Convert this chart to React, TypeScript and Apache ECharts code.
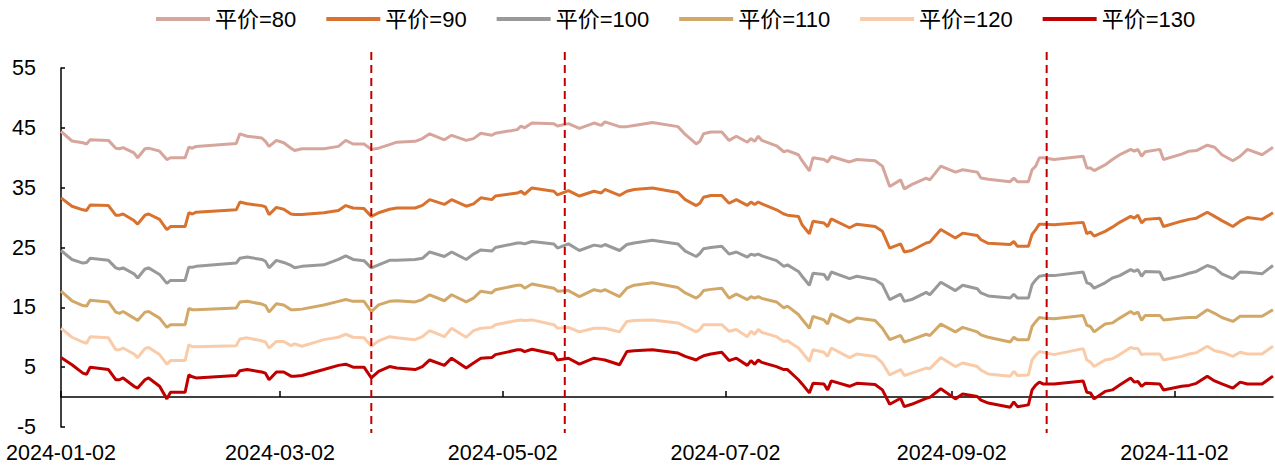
import React, { useEffect, useRef } from "react";
import * as echarts from "echarts";

const dates = [
  "2024-01-02","2024-01-05","2024-01-08","2024-01-09","2024-01-10","2024-01-15","2024-01-17","2024-01-18","2024-01-19","2024-01-22",
  "2024-01-23","2024-01-25","2024-01-26","2024-01-29","2024-01-31","2024-02-01","2024-02-05","2024-02-06","2024-02-07","2024-02-08",
  "2024-02-19","2024-02-20","2024-02-22","2024-02-26","2024-02-27","2024-02-28","2024-03-01","2024-03-03","2024-03-05","2024-03-06",
  "2024-03-08","2024-03-14","2024-03-18","2024-03-20","2024-03-22","2024-03-25","2024-03-27","2024-03-29","2024-04-01","2024-04-03",
  "2024-04-08","2024-04-10","2024-04-12","2024-04-16","2024-04-18","2024-04-22","2024-04-24","2024-04-26","2024-04-29","2024-04-30",
  "2024-05-06","2024-05-07","2024-05-08","2024-05-10","2024-05-16","2024-05-17","2024-05-20","2024-05-23","2024-05-27","2024-05-29",
  "2024-05-30","2024-06-03","2024-06-05","2024-06-07","2024-06-12","2024-06-19","2024-06-21","2024-06-24","2024-06-25","2024-06-26",
  "2024-06-28","2024-07-01","2024-07-03","2024-07-05","2024-07-08","2024-07-09","2024-07-10","2024-07-11","2024-07-12","2024-07-16",
  "2024-07-18","2024-07-19","2024-07-22","2024-07-23","2024-07-25","2024-07-26","2024-07-29","2024-07-30","2024-07-31","2024-08-05",
  "2024-08-07","2024-08-12","2024-08-14","2024-08-16","2024-08-19","2024-08-20","2024-08-22","2024-08-26","2024-08-27","2024-08-30",
  "2024-09-03","2024-09-05","2024-09-09","2024-09-10","2024-09-12","2024-09-18","2024-09-19","2024-09-20","2024-09-23","2024-09-24",
  "2024-09-25","2024-09-26","2024-09-27","2024-09-30","2024-10-08","2024-10-09","2024-10-10","2024-10-11","2024-10-14","2024-10-16",
  "2024-10-18","2024-10-21","2024-10-22","2024-10-23","2024-10-24","2024-10-25","2024-10-29","2024-10-30","2024-11-04","2024-11-06",
  "2024-11-08","2024-11-11","2024-11-13","2024-11-15","2024-11-18","2024-11-20","2024-11-22","2024-11-26","2024-11-29"
];

const p80 = [
  44.4,42.8,42.5,42.3,43.0,42.9,41.6,41.5,41.7,40.8,
  40.0,41.5,41.6,41.1,39.7,40.0,40.0,41.75,41.6,41.9,
  42.4,44.0,43.6,43.3,42.75,41.9,42.9,42.5,41.6,41.2,
  41.5,41.5,41.9,42.9,42.3,42.3,41.4,41.6,42.2,42.6,
  42.75,43.2,44.0,43.0,43.75,42.9,43.2,44.1,43.75,44.1,
  44.7,45.3,45.0,45.8,45.7,45.3,45.7,44.9,45.8,45.4,
  46.0,45.2,45.2,45.4,45.9,45.2,43.9,42.3,42.75,44.0,
  44.3,44.3,42.9,43.6,42.6,43.2,42.75,43.6,42.9,42.0,
  41.0,41.2,40.5,39.5,37.8,40.0,39.7,39.3,40.2,39.3,
  39.7,39.5,38.6,35.2,36.3,34.8,35.5,36.6,36.3,38.6,
  37.6,38.0,37.6,36.6,36.4,36.0,36.6,36.0,36.0,38.0,
  38.6,40.0,40.0,39.7,40.25,38.3,38.3,37.85,38.8,39.7,
  40.5,41.4,41.1,41.4,40.25,41.0,41.4,39.7,40.6,41.1,
  41.2,42.1,41.75,40.5,39.5,40.25,41.4,40.5,41.75
];
const p90 = [
  33.3,31.9,31.3,31.2,32.1,32.0,30.4,30.4,30.6,29.5,
  28.9,30.4,30.6,29.7,28.0,28.5,28.5,30.8,30.6,30.9,
  31.3,32.6,32.3,32.0,31.8,30.5,31.7,31.4,30.6,30.5,
  30.5,30.8,31.2,32.0,31.6,31.5,30.2,30.8,31.4,31.6,
  31.6,32.05,33.0,32.2,33.0,31.9,32.3,33.3,33.0,33.6,
  34.1,34.4,33.9,34.95,34.4,33.8,34.5,33.6,34.4,34.1,
  34.7,33.7,34.4,34.7,34.95,34.2,33.0,32.0,32.4,33.4,
  33.7,33.7,32.4,33.0,32.05,32.6,32.2,32.6,32.3,31.3,
  30.6,30.4,30.2,28.8,27.3,29.4,29.1,28.5,29.8,28.3,
  28.9,28.5,27.7,24.9,25.6,24.25,24.5,25.75,25.9,28.0,
  26.6,27.4,27.0,26.3,25.7,25.5,26.0,25.2,25.2,27.2,
  28.0,28.9,28.9,28.8,29.2,27.3,27.6,26.9,27.7,28.4,
  29.2,30.2,29.9,30.4,29.1,29.7,29.9,28.5,29.4,29.7,
  29.9,30.9,30.2,29.5,28.5,29.4,30.0,29.7,30.8
];
const p100 = [
  24.5,23.0,22.4,22.5,23.2,22.85,21.6,21.4,21.6,20.6,
  19.9,21.4,21.6,20.5,19.0,19.5,19.5,21.7,21.7,21.85,
  22.4,23.2,23.4,23.0,22.7,21.6,22.85,22.5,22.0,21.6,
  21.85,22.1,23.0,23.6,23.0,22.8,21.6,22.1,22.85,22.85,
  23.0,23.2,24.25,23.5,24.25,23.0,23.9,24.6,24.4,25.0,
  25.75,25.75,25.6,26.0,25.6,24.9,25.6,24.5,25.4,25.2,
  25.5,24.5,25.5,25.75,26.2,25.6,24.4,23.5,24.0,24.8,
  25.0,25.2,23.9,24.25,23.4,23.9,23.7,23.9,23.6,22.8,
  21.85,22.1,21.0,20.2,18.7,20.7,20.5,19.6,20.9,19.8,
  20.2,19.6,18.8,16.3,17.2,16.0,16.3,17.5,17.1,19.2,
  17.8,18.7,18.1,17.4,16.9,16.55,17.2,16.55,16.55,18.8,
  19.6,20.2,20.3,20.3,20.9,19.1,18.9,18.2,19.1,19.9,
  20.3,21.3,21.0,21.3,20.2,21.0,20.9,19.6,20.3,20.7,
  21.0,22.0,21.6,20.6,19.8,20.9,20.85,20.6,22.0
];
const p110 = [
  17.7,16.1,15.3,15.2,16.2,15.9,14.2,14.0,14.3,13.2,
  12.8,14.2,14.3,13.2,11.65,12.1,12.1,14.8,14.6,14.6,
  14.9,15.9,16.0,15.55,15.3,14.2,15.6,15.4,14.6,14.6,
  14.7,15.4,16.0,16.3,16.0,16.0,14.3,15.4,16.0,16.1,
  15.9,16.3,17.1,16.1,17.1,15.9,16.55,17.7,17.4,17.95,
  18.7,18.7,18.2,18.9,18.2,17.7,17.8,16.8,17.95,17.7,
  17.95,16.8,18.2,18.7,19.1,18.3,17.4,16.55,17.0,17.8,
  18.0,18.2,16.55,17.2,16.3,16.8,16.55,16.8,16.5,15.9,
  14.9,15.2,13.8,13.0,11.5,13.5,12.9,12.2,13.9,12.5,
  13.2,12.8,11.5,9.6,10.3,9.2,9.6,10.5,10.3,12.2,
  10.9,11.65,10.9,10.4,10.0,9.2,10.0,9.6,9.6,11.8,
  12.6,13.3,13.2,13.1,13.65,12.0,11.8,10.9,12.2,12.4,
  13.2,14.3,13.9,14.2,12.8,13.65,13.65,12.9,13.2,13.3,
  13.3,14.6,14.0,13.3,12.65,13.5,13.5,13.5,14.6
];
const p120 = [
  11.5,10.0,9.2,9.0,10.1,9.9,7.9,7.9,8.2,7.2,
  6.6,8.1,8.3,7.1,5.5,6.1,6.1,8.75,8.4,8.4,
  8.6,9.7,9.9,9.4,9.2,8.2,9.3,9.3,8.6,8.9,
  8.5,9.6,10.0,10.5,10.0,9.9,8.5,9.4,10.1,9.9,
  9.6,10.1,11.1,10.1,11.5,10.0,11.1,11.5,11.65,12.1,
  12.8,12.9,12.8,12.9,12.1,11.5,11.65,10.9,11.5,11.5,
  11.5,10.9,12.65,12.8,12.9,12.4,11.8,10.9,11.3,12.1,
  12.1,12.1,11.0,11.3,10.1,11.0,10.5,11.3,10.8,10.1,
  9.3,9.4,8.2,7.5,6.0,7.9,7.5,6.8,8.2,6.6,
  7.2,6.8,5.7,3.7,4.6,3.6,4.0,4.85,4.75,6.6,
  5.1,5.7,5.1,4.5,3.85,3.5,4.3,3.6,3.7,6.2,
  7.0,7.6,7.5,7.1,8.1,6.2,5.85,5.1,6.2,6.4,
  7.1,8.3,8.1,8.1,7.1,7.2,7.2,6.2,6.8,7.2,
  7.4,8.5,7.75,7.5,6.8,7.5,7.2,7.2,8.5
];
const p130 = [
  6.6,5.4,4.0,3.8,5.0,4.6,2.9,2.9,3.2,1.8,
  1.5,2.9,3.2,1.8,-0.3,0.8,0.8,3.7,3.4,3.2,
  3.6,4.4,4.6,4.2,4.0,2.9,4.2,4.2,3.5,3.5,
  3.6,4.6,5.3,5.5,5.0,5.0,3.2,4.3,5.1,4.85,
  4.6,5.1,6.2,5.3,6.5,4.85,5.7,6.5,6.6,7.1,
  7.9,7.9,7.6,8.0,7.2,6.2,6.5,5.5,6.5,6.3,
  6.2,5.4,7.6,7.75,7.9,7.35,6.8,6.2,6.6,6.9,
  7.2,7.5,6.1,6.5,5.3,6.1,5.5,6.2,5.8,5.1,
  4.6,4.6,2.9,2.2,0.7,2.3,2.2,1.2,2.7,1.8,
  2.3,2.1,1.2,-1.2,-0.2,-1.6,-1.2,-0.2,-0.05,1.4,
  -0.3,0.5,0.1,-0.5,-1.0,-1.7,-0.8,-1.6,-1.3,1.2,
  2.0,2.5,2.2,2.2,2.7,0.8,0.7,-0.3,0.95,1.2,
  2.0,3.2,2.5,2.6,1.8,2.3,2.2,1.2,1.8,1.95,
  2.3,3.5,2.7,2.2,1.5,2.5,2.2,2.2,3.5
];

const seriesNames = ["平价=80", "平价=90", "平价=100", "平价=110", "平价=120", "平价=130"];
const seriesColors = ["#D6A69C", "#D9722E", "#999999", "#D2A868", "#F9CBA9", "#C00000"];
const seriesValues = [p80, p90, p100, p110, p120, p130];

const tickLabels = ["2024-01-02", "2024-03-02", "2024-05-02", "2024-07-02", "2024-09-02", "2024-11-02"];
const markDates = ["2024-03-27", "2024-05-19", "2024-09-28"];
const firstDay = "2024-01-02";
const lastDay = "2024-11-29";

function calendar(from: string, to: string): string[] {
  const out: string[] = [];
  const a = Date.parse(from + "T00:00:00Z");
  const b = Date.parse(to + "T00:00:00Z");
  for (let t = a; t <= b; t += 86400000) out.push(new Date(t).toISOString().slice(0, 10));
  return out;
}

export default function App() {
  const ref = useRef<HTMLDivElement>(null);
  useEffect(() => {
    if (!ref.current) return;
    const chart = echarts.init(ref.current, undefined, { renderer: "svg" });
    const days = calendar(firstDay, lastDay);
    const showTick = (_i: number, v: string) => tickLabels.includes(v);
    const font = "'Liberation Sans', Arial, 'Noto Sans CJK SC', sans-serif";
    chart.setOption({
      animation: false,
      backgroundColor: "#ffffff",
      legend: {
        top: 8,
        left: 156,
        padding: 0,
        itemGap: 30,
        itemWidth: 54,
        itemHeight: 4,
        icon: "rect",
        textStyle: { fontFamily: font, fontSize: 22, color: "#000" },
        data: seriesNames,
      },
      grid: { left: 61, right: 2, top: 68, bottom: 38, containLabel: false },
      xAxis: [
        {
          type: "category",
          data: days,
          boundaryGap: false,
          position: "bottom",
          axisLine: { onZero: true, lineStyle: { color: "#000", width: 1.5 } },
          axisTick: { show: true, inside: true, length: 6, interval: showTick, lineStyle: { color: "#000", width: 1.5 } },
          axisLabel: { show: false },
          splitLine: { show: false },
        },
        {
          type: "category",
          data: days,
          boundaryGap: false,
          position: "bottom",
          axisLine: { show: false, onZero: false },
          axisTick: { show: false },
          axisLabel: {
            show: true,
            interval: showTick,
            margin: 15,
            fontFamily: font,
            fontSize: 21.5,
            color: "#000",
          },
          splitLine: { show: false },
        },
      ],
      yAxis: {
        type: "value",
        min: -5,
        max: 55,
        interval: 10,
        axisLine: { show: true, lineStyle: { color: "#000", width: 1.5 } },
        axisTick: { show: true, inside: true, length: 4, lineStyle: { color: "#000", width: 1.5 } },
        axisLabel: { margin: 25, fontFamily: font, fontSize: 21.5, color: "#000" },
        splitLine: { show: false },
      },
      series: seriesNames.map((name, k) => ({
        name,
        type: "line",
        xAxisIndex: 0,
        showSymbol: false,
        symbol: "none",
        connectNulls: true,
        lineStyle: { color: seriesColors[k], width: 3 },
        itemStyle: { color: seriesColors[k] },
        data: dates.map((d, i) => [d, seriesValues[k][i]]),
        z: 2 + k,
      })),
    });
    const graphics = markDates.map((d) => {
      const x = chart.convertToPixel({ xAxisIndex: 0 }, d) as number;
      return {
        type: "line",
        shape: { x1: x, y1: 52, x2: x, y2: 433 },
        style: { stroke: "#C00000", lineWidth: 2, lineDash: [8, 5] },
        z: 50,
      };
    });
    chart.setOption({ graphic: graphics });
    return () => chart.dispose();
  }, []);
  return (
    <div
      ref={ref}
      style={{ position: "fixed", left: 0, top: 0, width: 1275, height: 465 }}
    />
  );
}
